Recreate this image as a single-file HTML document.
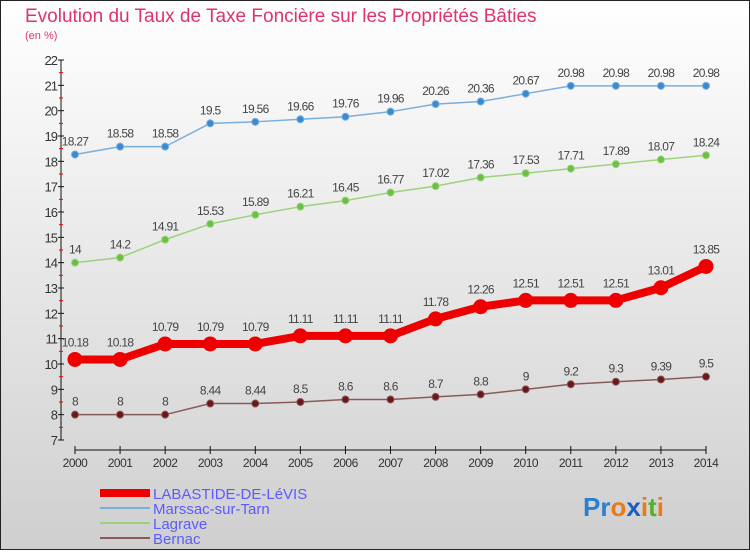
<!DOCTYPE html>
<html><head><meta charset="utf-8">
<style>
html,body{margin:0;padding:0;}
body{width:750px;height:550px;overflow:hidden;font-family:"Liberation Sans",sans-serif;}
</style></head>
<body>
<svg id="chart" width="750" height="550" xmlns="http://www.w3.org/2000/svg">
<defs><linearGradient id="bg" x1="0" y1="0" x2="0" y2="1"><stop offset="0" stop-color="#ffffff"/><stop offset="1" stop-color="#cfcfcf"/></linearGradient></defs>
<rect x="0" y="0" width="750" height="550" fill="url(#bg)"/>
<rect x="0.5" y="0.5" width="749" height="549" fill="none" stroke="#222" stroke-width="1"/>
<text x="25" y="22" font-size="19" fill="#e0336b">Evolution du Taux de Taxe Foncière sur les Propriétés Bâties</text>
<text x="25" y="39" font-size="11" fill="#e0336b">(en %)</text>
<g id="axes"></g>
<g id="series"></g>
<g id="legend">
<rect x="100" y="489" width="50" height="8" fill="#e00"/>
<text x="153" y="499" font-size="15" fill="#5b5bff">LABASTIDE-DE-LéVIS</text>
<rect x="100" y="507" width="50" height="2" fill="#7aaedc"/>
<text x="153" y="514" font-size="15" fill="#5b5bff">Marssac-sur-Tarn</text>
<rect x="100" y="522" width="50" height="2" fill="#9dd27d"/>
<text x="153" y="529" font-size="15" fill="#5b5bff">Lagrave</text>
<rect x="100" y="537" width="50" height="2" fill="#8a5a5a"/>
<text x="153" y="544" font-size="15" fill="#5b5bff">Bernac</text>
</g>
<text x="583" y="516" font-size="26" font-weight="bold"><tspan fill="#2a7fd0">Pr</tspan><tspan fill="#e87a1a">o</tspan><tspan fill="#1a5fc0">x</tspan><tspan fill="#e87a1a">i</tspan><tspan fill="#56b030">t</tspan><tspan fill="#e87a1a">i</tspan></text>
</svg>
<script>
const years=[2000,2001,2002,2003,2004,2005,2006,2007,2008,2009,2010,2011,2012,2013,2014];
const labastide=[10.18,10.18,10.79,10.79,10.79,11.11,11.11,11.11,11.78,12.26,12.51,12.51,12.51,13.01,13.85];
const marssac=[18.27,18.58,18.58,19.5,19.56,19.66,19.76,19.96,20.26,20.36,20.67,20.98,20.98,20.98,20.98];
const lagrave=[14,14.2,14.91,15.53,15.89,16.21,16.45,16.77,17.02,17.36,17.53,17.71,17.89,18.07,18.24];
const bernac=[8,8,8,8.44,8.44,8.5,8.6,8.6,8.7,8.8,9,9.2,9.3,9.39,9.5];
const yTicks=[7,8,9,10,11,12,13,14,15,16,17,18,19,20,21,22];
const NS="http://www.w3.org/2000/svg";
function xS(i){return 75+i*(706-75)/(years.length-1);}
function yS(v){return 440-(v-7)*(380/15);}
function mk(tag,attrs,parent){const e=document.createElementNS(NS,tag);for(const k in attrs)e.setAttribute(k,attrs[k]);parent.appendChild(e);return e;}
const axes=document.getElementById('axes');
let a=mk('line',{x1:61,y1:yS(22),x2:61,y2:yS(7),stroke:'#111'},axes);


yTicks.forEach(t=>{
 const l=mk('line',{x1:58,x2:64,y1:yS(t),y2:yS(t),stroke:'#111'},axes);
 
 
 if(t<22){const m=mk('line',{x1:59,x2:63,y1:yS(t+0.5),y2:yS(t+0.5),stroke:'#e00'},axes);
 
 }
 const tx=mk('text',{x:57,y:yS(t)+5,'text-anchor':'end','font-size':13,fill:'#333','letter-spacing':'-1'},axes);
 tx.textContent=t;
 
 
});
a=mk('line',{x1:75,y1:450,x2:706,y2:450,stroke:'#111'},axes);


years.forEach((y,i)=>{
 const l=mk('line',{x1:xS(i),x2:xS(i),y1:446,y2:454,stroke:'#111'},axes);
 
 
 const tx=mk('text',{x:xS(i),y:467,'text-anchor':'middle','font-size':12,fill:'#333','letter-spacing':'-0.5'},axes);
 tx.textContent=y;
 
 
});
const sg=document.getElementById('series');
function draw(vals,name,col,dot,w,r,lblOff){
 const g=mk('g',{},sg);
 
 
 const p=mk('polyline',{points:vals.map((v,i)=>xS(i)+','+yS(v)).join(' '),fill:'none',stroke:col,'stroke-width':w,'stroke-linejoin':'round'},g);
 
 
 vals.forEach((v,i)=>{
  const c=mk('circle',{cx:xS(i),cy:yS(v),r:r,fill:dot,stroke:col,'stroke-width':1},g);
  
  
  const t=mk('text',{x:xS(i),y:yS(v)-lblOff,'text-anchor':'middle','font-size':12,fill:'#444','letter-spacing':'-0.7'},g);
  t.textContent=v;
  
  
 });
}
draw(marssac,'marssac','#7aaedc','#3a8ad0',1.5,3.5,9);
draw(lagrave,'lagrave','#9dd27d','#6ac040',1.5,3.5,9);
draw(bernac,'bernac','#8a5a5a','#6a1818',1.5,3.5,9);
draw(labastide,'labastide','#e00','#e00',8,7,13);
</script>
</body></html>
